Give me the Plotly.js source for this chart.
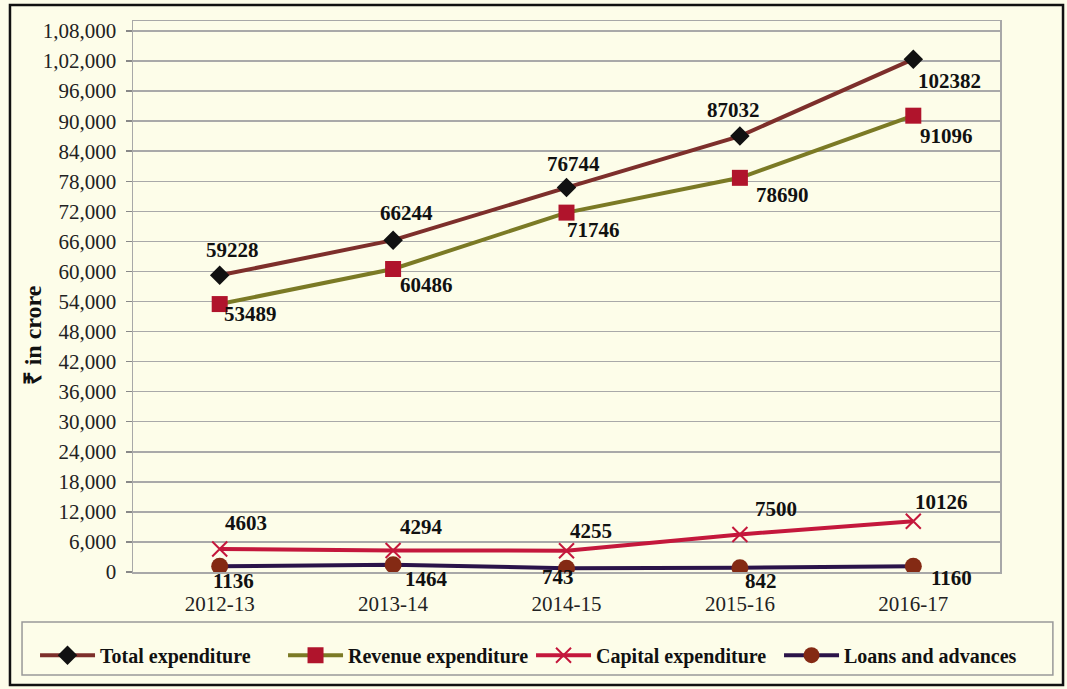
<!DOCTYPE html>
<html>
<head>
<meta charset="utf-8">
<script src="https://cdn.plot.ly/plotly-3.0.1.min.js"></script>
<style>
html,body{margin:0;padding:0;background:#fdfde9;}
#chart{width:1067px;height:689px;}
</style>
</head>
<body>
<div id="chart"></div>
<script>
// ---- data ----
const years = ["2012-13", "2013-14", "2014-15", "2015-16", "2016-17"];
const totalExpenditure = [59228, 66244, 76744, 87032, 102382];
const revenueExpenditure = [53489, 60486, 71746, 78690, 91096];
const capitalExpenditure = [4603, 4294, 4255, 7500, 10126];
const loansAndAdvances = [1136, 1464, 743, 842, 1160];
const yTickValues = [0, 6000, 12000, 18000, 24000, 30000, 36000, 42000, 48000, 54000, 60000, 66000, 72000, 78000, 84000, 90000, 96000, 102000, 108000];
const yTickLabels = ["0", "6,000", "12,000", "18,000", "24,000", "30,000", "36,000", "42,000", "48,000", "54,000", "60,000", "66,000", "72,000", "78,000", "84,000", "90,000", "96,000", "1,02,000", "1,08,000"];

// ---- label offsets (pixels) ----
const offTotal = [[13,-25],[13,-27],[7,-24],[-6,-26],[36,22]];
const offRevenue = [[31,10],[33,16],[27,17],[43,17],[33,20]];
const offCapital = [[26,-26],[28,-23],[24,-20],[36,-25],[28,-19]];
const offLoans = [[14,15],[33,14],[-9,9],[21,13],[38,12]];

const FONT = '"Liberation Serif", serif';

const traces = [
  {name: "Total expenditure", x: years, y: totalExpenditure, mode: "lines+markers",
   line: {color: "#7d2f2b", width: 4}, marker: {symbol: "diamond", size: 15, color: "#111"}},
  {name: "Revenue expenditure", x: years, y: revenueExpenditure, mode: "lines+markers",
   line: {color: "#7b7a25", width: 4}, marker: {symbol: "square", size: 16, color: "#b0142c"}},
  {name: "Capital expenditure", x: years, y: capitalExpenditure, mode: "lines+markers",
   line: {color: "#c4183c", width: 4}, marker: {symbol: "x-thin-open", size: 15, line: {color: "#8fb6cc", width: 2}}},
  {name: "Loans and advances", x: years, y: loansAndAdvances, mode: "lines+markers",
   line: {color: "#2b1449", width: 4}, marker: {symbol: "circle", size: 17, color: "#842a14"}}
];

const annotations = [];
function addLabels(vals, offs){
  vals.forEach((v, i) => {
    annotations.push({x: years[i], y: v, xref: "x", yref: "y", text: String(v), showarrow: false,
      xshift: offs[i][0], yshift: -offs[i][1],
      font: {family: FONT, size: 21, color: "#111", weight: "bold"}});
  });
}
addLabels(totalExpenditure, offTotal);
addLabels(revenueExpenditure, offRevenue);
addLabels(capitalExpenditure, offCapital);
addLabels(loansAndAdvances, offLoans);

annotations.push({text: "₹ in crore", xref: "paper", yref: "paper", x: -0.115, y: 0.43,
  xanchor: "center", yanchor: "middle",
  textangle: -90, showarrow: false, font: {family: FONT, size: 24, color: "#111", weight: "bold"}});

const layout = {
  width: 1067, height: 689,
  paper_bgcolor: "#fdfde9", plot_bgcolor: "#fdfde9",
  margin: {l: 133, r: 67, t: 21, b: 117},
  showlegend: true,
  font: {family: FONT, color: "#111"},
  xaxis: {
    type: "category", range: [-0.5, 4.5], showgrid: false, zeroline: false,
    showline: true, linecolor: "#a8a8a8", linewidth: 1.5, mirror: true,
    ticks: "", ticklabelstandoff: 12, tickfont: {family: FONT, size: 21, color: "#222"}, fixedrange: true
  },
  yaxis: {
    range: [0, 110000], tickvals: yTickValues, ticktext: yTickLabels,
    showgrid: true, gridcolor: "#a9a9a9", gridwidth: 1.5, zeroline: false,
    showline: true, linecolor: "#a8a8a8", linewidth: 1.5, mirror: true,
    ticks: "outside", ticklen: 6, tickcolor: "#888", tickwidth: 1.5, ticklabelstandoff: 5,
    tickfont: {family: FONT, size: 21, color: "#222"}, fixedrange: true
  },
  legend: {
    orientation: "h", x: -0.113, xanchor: "left", y: -0.151, yanchor: "middle",
    font: {family: FONT, size: 20, color: "#111", weight: "bold"},
    bgcolor: "rgba(0,0,0,0)", entrywidth: 178, itemwidth: 55
  },
  annotations: annotations,
  shapes: [
    {type: "rect", xref: "paper", yref: "paper", x0: -0.1419, x1: 1.0727, y0: -0.205, y1: 1.029,
     line: {color: "#111", width: 2.5}, layer: "below"},
    {type: "rect", xref: "paper", yref: "paper", x0: -0.128, x1: 1.061, y0: -0.187, y1: -0.0907,
     line: {color: "#999", width: 1.5}, layer: "below"}
  ]
};

Plotly.newPlot("chart", traces, layout, {displayModeBar: false, staticPlot: true});
</script>
</body>
</html>
